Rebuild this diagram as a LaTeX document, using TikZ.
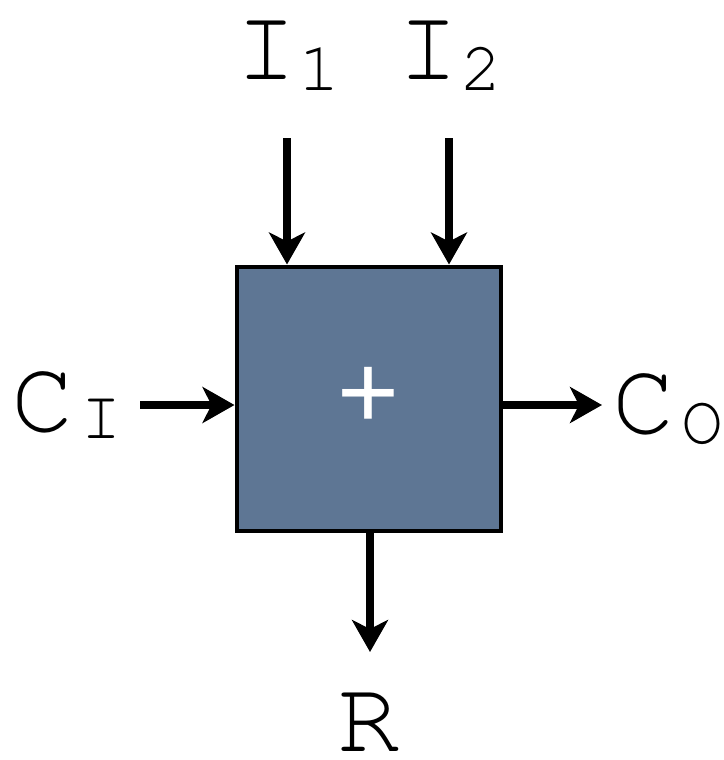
\documentclass[tikz,border=0pt]{standalone}
\usepackage{fontspec}
\usepackage{tikz}
\usetikzlibrary{arrows.meta, positioning, calc}
\newfontfamily\labelfont{texgyrecursor-regular.otf}
\newfontfamily\plusfont{Liberation Sans}
\definecolor{adderblue}{RGB}{94,118,148}
% label with a lowered, smaller index
\newcommand{\portlabel}[3]{{\fontsize{104}{104}\selectfont #1}\raisebox{-#3pt}{\fontsize{70}{70}\selectfont #2}}

\begin{document}
\begin{tikzpicture}[
    x=1pt, y=-1pt,
    adder/.style={
        draw, line width=4pt,
        fill=adderblue,
        minimum width=264pt,
        minimum height=264pt,
        inner sep=0pt
    },
    port/.style={font=\labelfont, anchor=base, inner sep=0pt},
    sig/.style={line width=8pt, -{Stealth[length=32pt, width=36pt, inset=9pt]}}
]
\useasboundingbox (0,0) rectangle (723,760);

% Adder block
\node[adder] (add) at (368.5,398.5) {};
\node[font=\plusfont\fontsize{106}{106}\selectfont, text=white, inner sep=0pt] (plus) at (368.5,398) {+};

% ------- Inputs (top) -------
\node[port] (i1) at (288,80) {\portlabel{I}{1}{10}};
\node[port] (i2) at (450,80) {\portlabel{I}{2}{10}};
\coordinate (i1in) at (287,138);
\coordinate (i2in) at (449,138);
\draw[sig] (i1in) -- (i1in |- add.north);
\draw[sig] (i2in) -- (i2in |- add.north);

% ------- Carry in / carry out -------
\node[port] (cin) at (67,431) {\portlabel{C}{\kern6pt I}{7}};
\node[port] (cout) at (668,433) {\portlabel{C}{\kern6pt O}{10}};
\coordinate (cinend) at (140,405);
\coordinate (coutend) at (602,405);
\draw[sig] (cinend) -- (cinend -| add.west);
\draw[sig] (coutend -| add.east) -- (coutend);

% ------- Result (bottom) -------
\node[port] (res) at (369,751) {{\fontsize{104}{104}\selectfont R}};
\coordinate (resend) at (370,652);
\draw[sig] (resend |- add.south) -- (resend);
\end{tikzpicture}
\end{document}
